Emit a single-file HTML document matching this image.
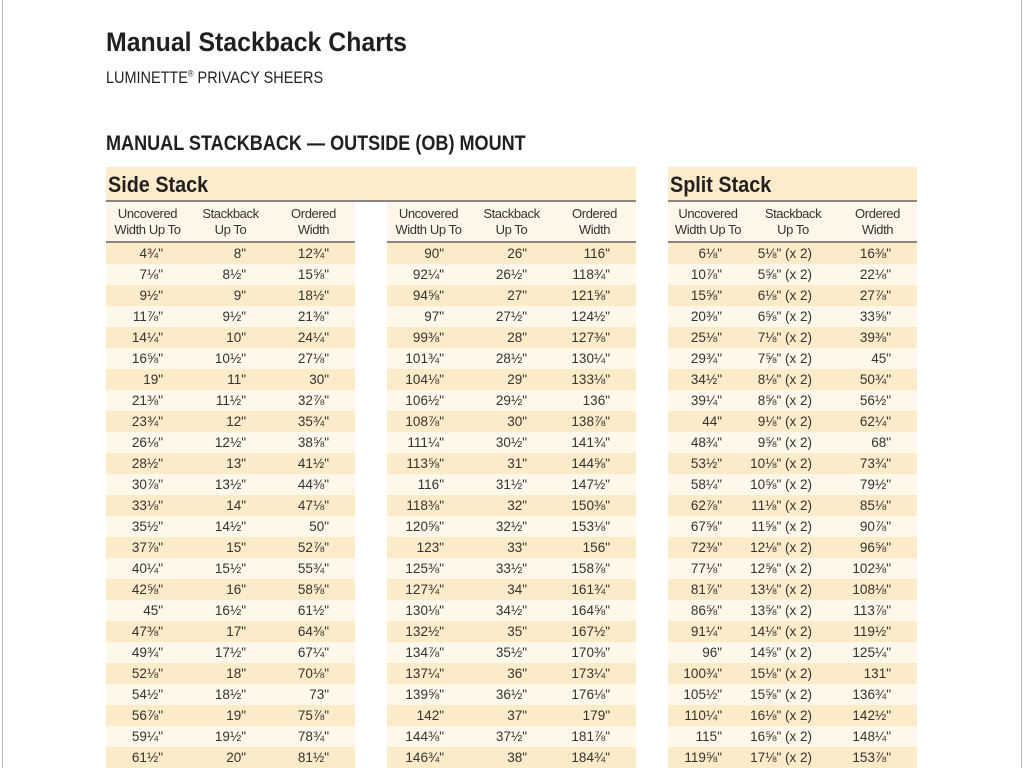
<!DOCTYPE html>
<html><head><meta charset="utf-8">
<style>
body{margin:0;width:1024px;height:768px;background:#fff;position:relative;overflow:hidden;font-family:"Liberation Sans Narrow","Liberation Sans",sans-serif;color:#231f20}
.pg{position:absolute;top:0;bottom:0;width:1px;background:#b8b8b0}
h1{position:absolute;left:106px;top:27px;margin:0;font-size:27px;font-weight:bold;transform:scaleX(0.92);transform-origin:left top;white-space:nowrap}
.sub{position:absolute;left:106px;top:68px;font-size:17px;transform:scaleX(0.85);transform-origin:left top;white-space:nowrap}
.sec{position:absolute;left:106px;top:132px;font-size:21px;font-weight:bold;transform:scaleX(0.86);transform-origin:left top;white-space:nowrap}
.bar{position:absolute;top:167px;height:33px;background:#fdeccb;border-bottom:2px solid #8a8580;font-size:22px;font-weight:bold;box-sizing:content-box}
.bar span{position:absolute;left:2px;top:5px;transform:scaleX(0.9);transform-origin:left top;white-space:nowrap}
table{position:absolute;top:202px;border-collapse:collapse;font-size:13.5px;table-layout:fixed}
th{font-weight:normal;height:39px;line-height:16px;background:#fef7e9;border-bottom:2px solid #8a8580;padding:0;color:#333;text-align:center;font-size:13px;letter-spacing:-0.4px}
td{height:21px;padding:0 26px 0 0;text-align:right;line-height:21px;white-space:nowrap;color:#333}
tr:nth-child(even) td{background:#fcebc8}
tr:nth-child(odd) td{background:#fef8eb}
</style></head><body>
<div class="pg" style="left:2px"></div><div class="pg" style="left:1021px"></div>
<h1>Manual Stackback Charts</h1>
<div class="sub">LUMINETTE<sup style="font-size:9px">®</sup> PRIVACY SHEERS</div>
<div class="sec">MANUAL STACKBACK — OUTSIDE (OB) MOUNT</div>
<div class="bar" style="left:106px;width:530px"><span>Side Stack</span></div>
<div class="bar" style="left:668px;width:249px"><span>Split Stack</span></div>

<table style="left:106px;width:249px">
<colgroup><col style="width:83px"><col style="width:83px"><col style="width:83px"></colgroup>
<tr><th>Uncovered<br>Width Up To</th><th>Stackback<br>Up To</th><th>Ordered<br>Width</th></tr>
<tr><td>4¾"</td><td>8"</td><td>12¾"</td></tr>
<tr><td>7⅛"</td><td>8½"</td><td>15⅝"</td></tr>
<tr><td>9½"</td><td>9"</td><td>18½"</td></tr>
<tr><td>11⅞"</td><td>9½"</td><td>21⅜"</td></tr>
<tr><td>14¼"</td><td>10"</td><td>24¼"</td></tr>
<tr><td>16⅝"</td><td>10½"</td><td>27⅛"</td></tr>
<tr><td>19"</td><td>11"</td><td>30"</td></tr>
<tr><td>21⅜"</td><td>11½"</td><td>32⅞"</td></tr>
<tr><td>23¾"</td><td>12"</td><td>35¾"</td></tr>
<tr><td>26⅛"</td><td>12½"</td><td>38⅝"</td></tr>
<tr><td>28½"</td><td>13"</td><td>41½"</td></tr>
<tr><td>30⅞"</td><td>13½"</td><td>44⅜"</td></tr>
<tr><td>33⅛"</td><td>14"</td><td>47⅛"</td></tr>
<tr><td>35½"</td><td>14½"</td><td>50"</td></tr>
<tr><td>37⅞"</td><td>15"</td><td>52⅞"</td></tr>
<tr><td>40¼"</td><td>15½"</td><td>55¾"</td></tr>
<tr><td>42⅝"</td><td>16"</td><td>58⅝"</td></tr>
<tr><td>45"</td><td>16½"</td><td>61½"</td></tr>
<tr><td>47⅜"</td><td>17"</td><td>64⅜"</td></tr>
<tr><td>49¾"</td><td>17½"</td><td>67¼"</td></tr>
<tr><td>52⅛"</td><td>18"</td><td>70⅛"</td></tr>
<tr><td>54½"</td><td>18½"</td><td>73"</td></tr>
<tr><td>56⅞"</td><td>19"</td><td>75⅞"</td></tr>
<tr><td>59¼"</td><td>19½"</td><td>78¾"</td></tr>
<tr><td>61½"</td><td>20"</td><td>81½"</td></tr>
</table>

<table style="left:387px;width:249px">
<colgroup><col style="width:83px"><col style="width:83px"><col style="width:83px"></colgroup>
<tr><th>Uncovered<br>Width Up To</th><th>Stackback<br>Up To</th><th>Ordered<br>Width</th></tr>
<tr><td>90"</td><td>26"</td><td>116"</td></tr>
<tr><td>92¼"</td><td>26½"</td><td>118¾"</td></tr>
<tr><td>94⅝"</td><td>27"</td><td>121⅝"</td></tr>
<tr><td>97"</td><td>27½"</td><td>124½"</td></tr>
<tr><td>99⅜"</td><td>28"</td><td>127⅜"</td></tr>
<tr><td>101¾"</td><td>28½"</td><td>130¼"</td></tr>
<tr><td>104⅛"</td><td>29"</td><td>133⅛"</td></tr>
<tr><td>106½"</td><td>29½"</td><td>136"</td></tr>
<tr><td>108⅞"</td><td>30"</td><td>138⅞"</td></tr>
<tr><td>111¼"</td><td>30½"</td><td>141¾"</td></tr>
<tr><td>113⅝"</td><td>31"</td><td>144⅝"</td></tr>
<tr><td>116"</td><td>31½"</td><td>147½"</td></tr>
<tr><td>118⅜"</td><td>32"</td><td>150⅜"</td></tr>
<tr><td>120⅝"</td><td>32½"</td><td>153⅛"</td></tr>
<tr><td>123"</td><td>33"</td><td>156"</td></tr>
<tr><td>125⅜"</td><td>33½"</td><td>158⅞"</td></tr>
<tr><td>127¾"</td><td>34"</td><td>161¾"</td></tr>
<tr><td>130⅛"</td><td>34½"</td><td>164⅝"</td></tr>
<tr><td>132½"</td><td>35"</td><td>167½"</td></tr>
<tr><td>134⅞"</td><td>35½"</td><td>170⅜"</td></tr>
<tr><td>137¼"</td><td>36"</td><td>173¼"</td></tr>
<tr><td>139⅝"</td><td>36½"</td><td>176⅛"</td></tr>
<tr><td>142"</td><td>37"</td><td>179"</td></tr>
<tr><td>144⅜"</td><td>37½"</td><td>181⅞"</td></tr>
<tr><td>146¾"</td><td>38"</td><td>184¾"</td></tr>
</table>

<table style="left:668px;width:249px">
<colgroup><col style="width:80px"><col style="width:90px"><col style="width:79px"></colgroup>
<tr><th>Uncovered<br>Width Up To</th><th>Stackback<br>Up To</th><th>Ordered<br>Width</th></tr>
<tr><td>6⅛"</td><td>5⅛" (x 2)</td><td>16⅜"</td></tr>
<tr><td>10⅞"</td><td>5⅝" (x 2)</td><td>22⅛"</td></tr>
<tr><td>15⅝"</td><td>6⅛" (x 2)</td><td>27⅞"</td></tr>
<tr><td>20⅜"</td><td>6⅝" (x 2)</td><td>33⅝"</td></tr>
<tr><td>25⅛"</td><td>7⅛" (x 2)</td><td>39⅜"</td></tr>
<tr><td>29¾"</td><td>7⅝" (x 2)</td><td>45"</td></tr>
<tr><td>34½"</td><td>8⅛" (x 2)</td><td>50¾"</td></tr>
<tr><td>39¼"</td><td>8⅝" (x 2)</td><td>56½"</td></tr>
<tr><td>44"</td><td>9⅛" (x 2)</td><td>62¼"</td></tr>
<tr><td>48¾"</td><td>9⅝" (x 2)</td><td>68"</td></tr>
<tr><td>53½"</td><td>10⅛" (x 2)</td><td>73¾"</td></tr>
<tr><td>58¼"</td><td>10⅝" (x 2)</td><td>79½"</td></tr>
<tr><td>62⅞"</td><td>11⅛" (x 2)</td><td>85⅛"</td></tr>
<tr><td>67⅝"</td><td>11⅝" (x 2)</td><td>90⅞"</td></tr>
<tr><td>72⅜"</td><td>12⅛" (x 2)</td><td>96⅝"</td></tr>
<tr><td>77⅛"</td><td>12⅝" (x 2)</td><td>102⅜"</td></tr>
<tr><td>81⅞"</td><td>13⅛" (x 2)</td><td>108⅛"</td></tr>
<tr><td>86⅝"</td><td>13⅝" (x 2)</td><td>113⅞"</td></tr>
<tr><td>91¼"</td><td>14⅛" (x 2)</td><td>119½"</td></tr>
<tr><td>96"</td><td>14⅝" (x 2)</td><td>125¼"</td></tr>
<tr><td>100¾"</td><td>15⅛" (x 2)</td><td>131"</td></tr>
<tr><td>105½"</td><td>15⅝" (x 2)</td><td>136¾"</td></tr>
<tr><td>110¼"</td><td>16⅛" (x 2)</td><td>142½"</td></tr>
<tr><td>115"</td><td>16⅝" (x 2)</td><td>148¼"</td></tr>
<tr><td>119⅝"</td><td>17⅛" (x 2)</td><td>153⅞"</td></tr>
</table>
</body></html>
